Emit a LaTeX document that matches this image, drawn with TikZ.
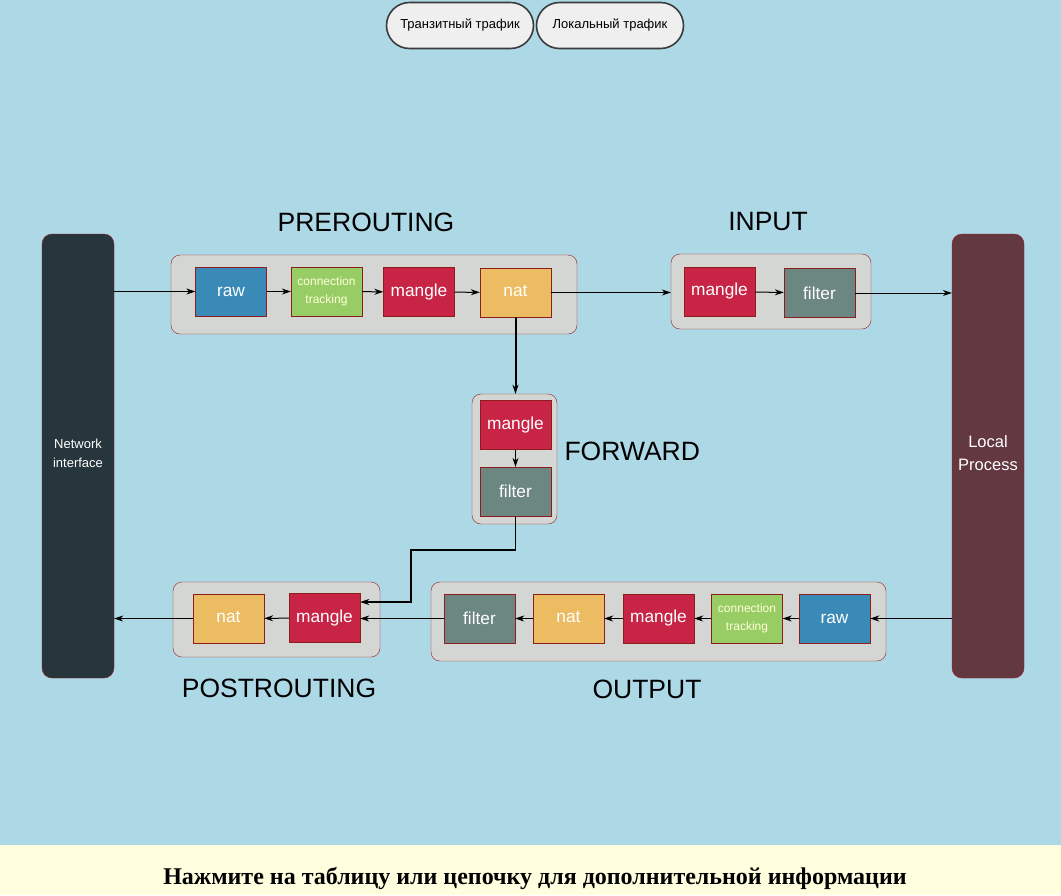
\documentclass[tikz,border=0pt]{standalone}
\usepackage{fontspec}
\setmainfont{Liberation Sans}
\newfontfamily\hintfont{Liberation Serif}
\usetikzlibrary{arrows.meta,calc}

\begin{document}
\begin{tikzpicture}[
  x=1pt, y=-1pt,
  % --- node styles ---
  tbl/.style={rectangle, draw=boxLine, fill=#1, minimum width=71pt,
              minimum height=49pt, inner sep=0pt, text=white,
              font=\fontsize{17.3}{20}\selectfont},
  ctk/.style={tbl=cGreen, text=cText, align=center,
              font=\fontsize{12}{18}\selectfont},
  chain/.style={rectangle, rounded corners=9pt, draw=grpLine, fill=grpFill,
                minimum width=#1, inner sep=0pt},
  ttl/.style={font=\fontsize{26.5}{30}\selectfont, text=black},
  side/.style={rectangle, rounded corners=10pt, draw=grpLine, fill=#1,
               minimum width=72pt, minimum height=444pt, inner sep=0pt},
  sidetxt/.style={text=white, align=center, yshift=3pt},
  btn/.style={rectangle, rounded corners=23pt, draw=btnLine, line width=1.6pt,
              fill=btnFill, minimum width=147pt, minimum height=46pt,
              font=\fontsize{13}{15}\selectfont},
  flow/.style={-{Stealth[length=9pt,width=6pt]}, line width=1pt},
]
  % --- Colours ---
  \definecolor{bgBlue}{HTML}{ADD8E6}
  \definecolor{bgYellow}{HTML}{FFFFE0}
  \definecolor{grpFill}{HTML}{D3D6D3}
  \definecolor{grpLine}{HTML}{9E1B1B}
  \definecolor{boxLine}{HTML}{8E1E1E}
  \definecolor{cBlue}{HTML}{3A8AB8}
  \definecolor{cGreen}{HTML}{98CD66}
  \definecolor{cRed}{HTML}{C72446}
  \definecolor{cOrange}{HTML}{EBBC62}
  \definecolor{cSlate}{HTML}{6C8681}
  \definecolor{cText}{HTML}{FFFFD8}
  \definecolor{niFill}{HTML}{26363C}
  \definecolor{lpFill}{HTML}{633840}
  \definecolor{btnFill}{HTML}{EFEFEF}
  \definecolor{btnLine}{HTML}{3C3C3C}

  % --- Background ---
  \useasboundingbox (0,0) rectangle (1061,895);
  \fill[bgBlue] (0,0) rectangle (1061,845);
  \fill[bgYellow] (0,845) rectangle (1061,895);

  % --- Buttons ---
  \node[btn] (transit) at (460,25.5) {Транзитный трафик};
  \node[btn] (local)   at (610,25.5) {Локальный трафик};

  % --- Network interface / Local process ---
  \node[side=niFill,
        label={[sidetxt, font=\fontsize{13}{19}\selectfont]center:Network\\interface}]
    (ni) at (78,456) {};
  \node[side=lpFill,
        label={[sidetxt, font=\fontsize{16.5}{23}\selectfont]center:Local\\Process}]
    (lp) at (988,456) {};

  % --- Chains (grey frames) ---
  \node[chain=406pt, minimum height=79pt]  (pre)  at (374,294.5) {};
  \node[chain=200pt, minimum height=75pt]  (inp)  at (771,291.5) {};
  \node[chain=85pt,  minimum height=130pt] (fwd)  at (514.5,459) {};
  \node[chain=207pt, minimum height=75pt]  (post) at (276.5,619.5) {};
  \node[chain=455pt, minimum height=79pt]  (out)  at (658.5,621.5) {};

  % --- Chain titles ---
  \node[ttl] at (366,222) {PREROUTING};
  \node[ttl] at (768,222) {INPUT};
  \node[ttl, anchor=west] at (561,451) {FORWARD};
  \node[ttl] at (279,688) {POSTROUTING};
  \node[ttl] at (647,689) {OUTPUT};

  % --- PREROUTING tables ---
  \node[tbl=cBlue]   (preRaw)    at (231,291.5)   {raw};
  \node[ctk]         (preCt)     at (326.5,291.5) {connection\\tracking};
  \node[tbl=cRed]    (preMangle) at (419,292)     {mangle};
  \node[tbl=cOrange] (preNat)    at (515.5,292.5) {\raisebox{3pt}{nat}};

  % --- INPUT tables ---
  \node[tbl=cRed]   (inMangle) at (719.5,291.5) {mangle};
  \node[tbl=cSlate] (inFilter) at (819.5,293)   {filter};

  % --- FORWARD tables ---
  \node[tbl=cRed]   (fwdMangle) at (515.5,425)   {mangle};
  \node[tbl=cSlate] (fwdFilter) at (515.5,491.5) {filter};

  % --- POSTROUTING tables ---
  \node[tbl=cOrange] (postNat)    at (228.5,618.5) {\raisebox{3pt}{nat}};
  \node[tbl=cRed]    (postMangle) at (324.5,618)   {mangle};

  % --- OUTPUT tables ---
  \node[tbl=cSlate]  (outFilter) at (479.5,618.5) {filter};
  \node[tbl=cOrange] (outNat)    at (568.5,618.5) {\raisebox{3pt}{nat}};
  \node[tbl=cRed]    (outMangle) at (658.5,618.5) {mangle};
  \node[ctk]         (outCt)     at (747,618.5)   {connection\\tracking};
  \node[tbl=cBlue]   (outRaw)    at (834.5,618.5) {raw};

  % --- Incoming path ---
  \draw[flow] (preRaw -| ni.east) -- (preRaw.west);
  \draw[flow] (preRaw) -- (preCt);
  \draw[flow] (preCt) -- (preMangle);
  \draw[flow] (preMangle) -- (preNat);
  \draw[flow] (preNat.east) -- (preNat -| inp.west);
  \draw[flow] (inMangle) -- (inFilter);
  \draw[flow] (inFilter.east) -- (inFilter -| lp.west);

  % --- Forward path ---
  \draw[flow, line width=2pt] (preNat.south) -- (fwd.north -| preNat.south);
  \draw[flow] (fwdMangle) -- (fwdFilter);
  \coordinate (fwdKnee) at (411,550);
  \draw[flow, line width=1.5pt] (fwdFilter.south) |- (fwdKnee)
    |- ([yshift=16pt]postMangle.east);

  % --- Outgoing path ---
  \draw[flow, line width=1.4pt] (outRaw -| lp.west) -- (outRaw.east);
  \draw[flow] (outRaw) -- (outCt);
  \draw[flow] (outCt) -- (outMangle);
  \draw[flow] (outMangle) -- (outNat);
  \draw[flow] (outNat) -- (outFilter);
  \draw[flow] (outFilter.west) -- (outFilter -| postMangle.east);
  \draw[flow] (postMangle) -- (postNat);
  \draw[flow] (postNat.west) -- (postNat -| ni.east);

  % --- Hint ---
  \node[font=\hintfont\bfseries\fontsize{24}{28}\selectfont] (hint)
    at (535,878) {Нажмите на таблицу или цепочку для дополнительной информации};
\end{tikzpicture}
\end{document}
